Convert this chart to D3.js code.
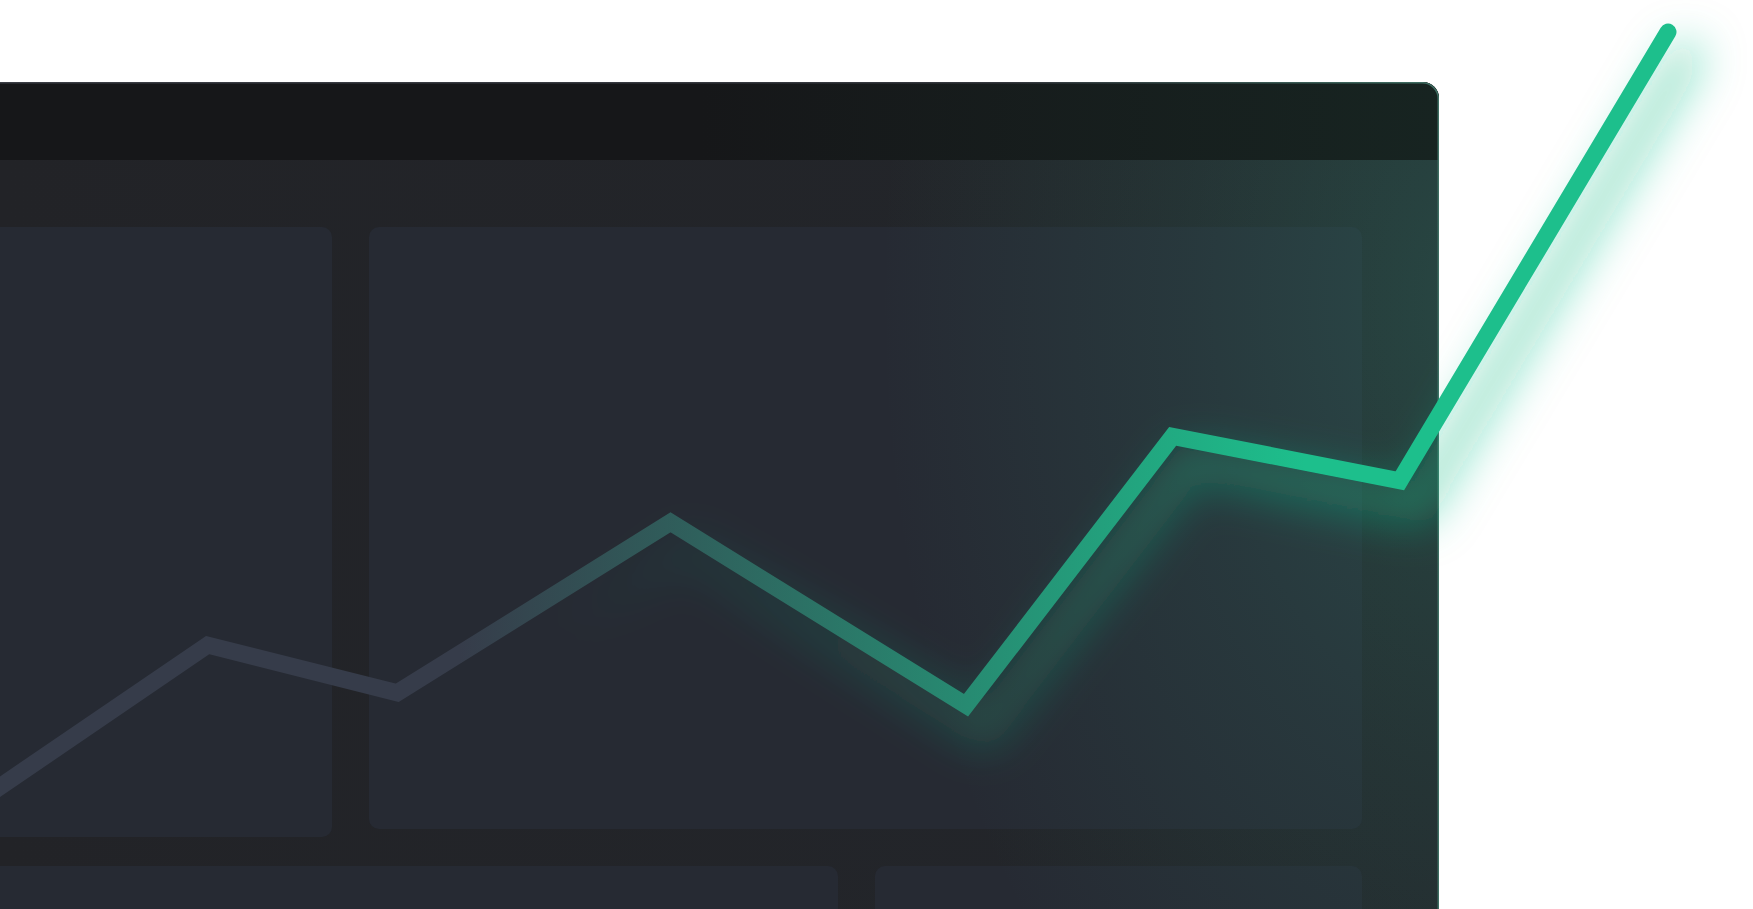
<!DOCTYPE html>
<html>
<head>
<meta charset="utf-8">
<script src="https://cdn.jsdelivr.net/npm/d3@7"></script>
<style>
  html, body { margin: 0; padding: 0; background: #ffffff; overflow: hidden; }
</style>
</head>
<body>
<div id="chart"></div>
<script>
// Data (growth index)
var periods = [0, 14.5, 25.6, 41.6, 58.9, 71.0, 84.3, 100];
var values = [0, 21.6, 15.5, 37.3, 13.9, 48.3, 42.6, 100];

// Dimensions
var width = 1753,
  height = 909;

var svg = d3.select("#chart")
  .append("svg")
  .attr("width", width)
  .attr("height", height);

var defs = svg.append("defs");

// Scales
var x = d3.scaleLinear().domain([0, 100]).range([-40, 1668]);
var y = d3.scaleLinear().domain([0, 100]).range([814, 32]);

// Window mockup geometry
var card = { x: -40, y: 82, w: 1479, h: 900, r: 16 };
var headerBottom = 160;
var panels = [
  { x: -40, y: 227, w: 372, h: 610 },
  { x: 369, y: 227, w: 993, h: 602 },
  { x: -40, y: 866, w: 878, h: 100 },
  { x: 875, y: 866, w: 487, h: 100 }
];

// Gradients
var bodyGrad = defs.append("linearGradient")
  .attr("id", "bodyGrad")
  .attr("gradientUnits", "userSpaceOnUse")
  .attr("x1", 0).attr("x2", 1440).attr("y1", 0).attr("y2", 0);
bodyGrad.append("stop").attr("offset", 0).attr("stop-color", "#222327");
bodyGrad.append("stop").attr("offset", 1).attr("stop-color", "#23262b");

var headGrad = defs.append("linearGradient")
  .attr("id", "headGrad")
  .attr("gradientUnits", "userSpaceOnUse")
  .attr("x1", 700).attr("x2", 1440).attr("y1", 0).attr("y2", 0);
headGrad.append("stop").attr("offset", 0).attr("stop-color", "#161719");
headGrad.append("stop").attr("offset", 1).attr("stop-color", "#172421");

var borderGrad = defs.append("linearGradient")
  .attr("id", "borderGrad")
  .attr("gradientUnits", "userSpaceOnUse")
  .attr("x1", 0).attr("x2", 1440).attr("y1", 0).attr("y2", 0);
borderGrad.append("stop").attr("offset", 0).attr("stop-color", "#3a3d44");
borderGrad.append("stop").attr("offset", 0.7).attr("stop-color", "#33363c");
borderGrad.append("stop").attr("offset", 1).attr("stop-color", "#3e6e62");

// elliptical teal tint hugging the right edge
var tint = defs.append("radialGradient")
  .attr("id", "tint")
  .attr("gradientUnits", "userSpaceOnUse")
  .attr("cx", 0).attr("cy", 0).attr("r", 600)
  .attr("gradientTransform", "translate(1480,300) scale(1,1.6)");
tint.append("stop").attr("offset", 0).attr("stop-color", "#33957c").attr("stop-opacity", 0.3);
tint.append("stop").attr("offset", 0.5).attr("stop-color", "#33957c").attr("stop-opacity", 0.13);
tint.append("stop").attr("offset", 1).attr("stop-color", "#33957c").attr("stop-opacity", 0);

var lineGrad = defs.append("linearGradient")
  .attr("id", "lineGrad")
  .attr("gradientUnits", "userSpaceOnUse")
  .attr("x1", 460).attr("x2", 1305).attr("y1", 0).attr("y2", 0);
lineGrad.append("stop").attr("offset", 0).attr("stop-color", "#363c4a");
lineGrad.append("stop").attr("offset", 1).attr("stop-color", "#1dbf8c");

var glowGrad = defs.append("linearGradient")
  .attr("id", "glowGrad")
  .attr("gradientUnits", "userSpaceOnUse")
  .attr("x1", 540).attr("x2", 1300).attr("y1", 0).attr("y2", 0);
glowGrad.append("stop").attr("offset", 0).attr("stop-color", "#1dbf8c").attr("stop-opacity", 0);
glowGrad.append("stop").attr("offset", 1).attr("stop-color", "#1dbf8c").attr("stop-opacity", 0.45);

defs.append("filter")
  .attr("id", "blur")
  .attr("filterUnits", "userSpaceOnUse")
  .attr("x", -200).attr("y", -200).attr("width", 2200).attr("height", 1400)
  .append("feGaussianBlur")
  .attr("stdDeviation", 22);

defs.append("clipPath")
  .attr("id", "cardClip")
  .append("rect")
  .attr("x", card.x).attr("y", card.y)
  .attr("width", card.w).attr("height", card.h)
  .attr("rx", card.r);

// Card
var cardG = svg.append("g").attr("clip-path", "url(#cardClip)");

cardG.append("rect")
  .attr("x", card.x).attr("y", card.y)
  .attr("width", card.w).attr("height", card.h)
  .attr("fill", "url(#bodyGrad)");

cardG.selectAll(".panel")
  .data(panels)
  .enter()
  .append("rect")
  .attr("class", "panel")
  .attr("x", d => d.x).attr("y", d => d.y)
  .attr("width", d => d.w).attr("height", d => d.h)
  .attr("rx", 10)
  .attr("fill", "#262a33");

cardG.append("rect")
  .attr("x", card.x).attr("y", headerBottom)
  .attr("width", card.w).attr("height", card.h)
  .attr("fill", "url(#tint)");

cardG.append("rect")
  .attr("x", card.x).attr("y", card.y)
  .attr("width", card.w).attr("height", headerBottom - card.y)
  .attr("fill", "url(#headGrad)");

svg.append("rect")
  .attr("x", card.x).attr("y", card.y + 0.75)
  .attr("width", card.w - 0.75).attr("height", card.h)
  .attr("rx", card.r)
  .attr("fill", "none")
  .attr("stroke", "url(#borderGrad)")
  .attr("stroke-width", 1.5);

// Line
var points = periods.map((p, i) => [p, values[i]]);
var line = d3.line()
  .x(d => x(d[0]))
  .y(d => y(d[1]));

// soft glow, shifted down-right
svg.append("path")
  .datum(points)
  .attr("d", line)
  .attr("transform", "translate(18,26)")
  .attr("fill", "none")
  .attr("stroke", "url(#glowGrad)")
  .attr("stroke-width", 34)
  .attr("stroke-linejoin", "round")
  .attr("stroke-linecap", "round")
  .attr("filter", "url(#blur)");

svg.append("path")
  .datum(points)
  .attr("d", line)
  .attr("fill", "none")
  .attr("stroke", "url(#lineGrad)")
  .attr("stroke-width", 17)
  .attr("stroke-linejoin", "miter")
  .attr("stroke-miterlimit", 10)
  .attr("stroke-linecap", "round");
</script>
</body>
</html>
